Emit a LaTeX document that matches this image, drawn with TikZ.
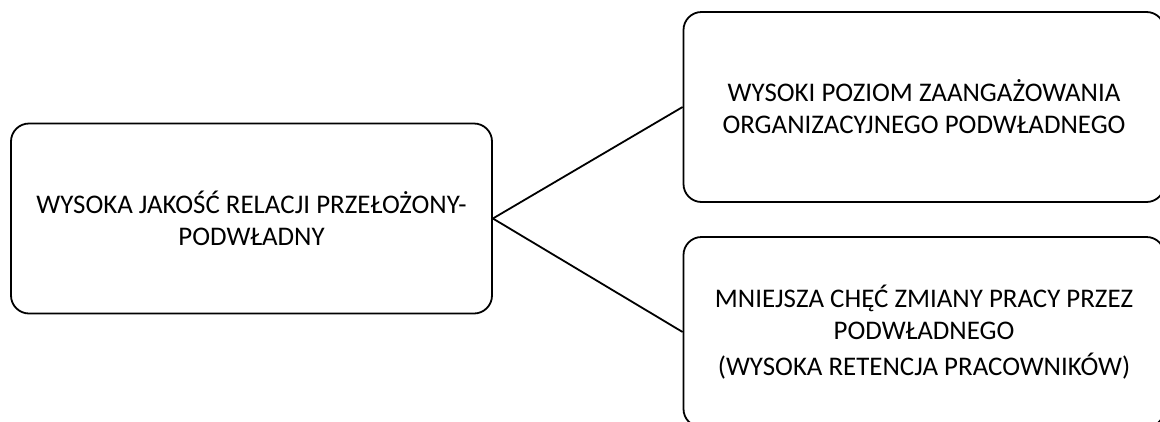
\documentclass[tikz,border=0pt]{standalone}
\usepackage{fontspec}
\setmainfont{Carlito}
\begin{document}
\begin{tikzpicture}[x=1pt,y=-1pt,
  card/.style={draw=black, line width=1.8pt, rounded corners=18pt,
    minimum width=481pt, minimum height=190pt, inner sep=0pt,
    align=center, font=\fontsize{26.9}{32}\selectfont},
  link/.style={draw=black, line width=1.8pt}]
\useasboundingbox (0,0) rectangle (1160,421);
\clip (0,0) rectangle (1160,421);
\node[card] (src) at (251.5,218.5) {WYSOKA JAKOŚĆ RELACJI PRZEŁOŻONY-\\PODWŁADNY};
\node[card] (top) at (924,107) {WYSOKI POZIOM ZAANGAŻOWANIA\\ORGANIZACYJNEGO PODWŁADNEGO};
\node[card] (bot) at (924,332) {MNIEJSZA CHĘĆ ZMIANY PRACY PRZEZ\\PODWŁADNEGO\\[4pt](WYSOKA RETENCJA PRACOWNIKÓW)};
\draw[link] (src.east) -- (top.west);
\draw[link] (src.east) -- (bot.west);
\end{tikzpicture}
\end{document}
